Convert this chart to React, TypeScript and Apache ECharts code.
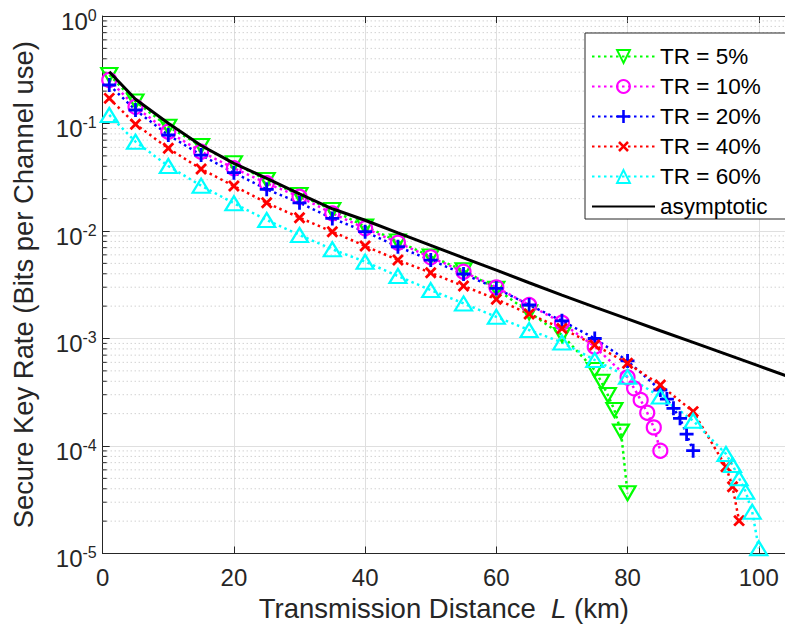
import React, { useEffect, useRef } from "react";
import * as echarts from "echarts";

// ---------- data ----------
const X_MAIN = [1, 5, 10, 15, 20, 25, 30, 35, 40, 45, 50, 55, 60, 65, 70];

const TR5_X = [...X_MAIN, 75, 76, 77, 78, 79, 80];
const TR5_Y = [0.283, 0.16, 0.0934, 0.0618, 0.0426, 0.0298, 0.0216, 0.0157, 0.011, 0.008, 0.0058, 0.0043, 0.0029, 0.00175, 0.00108,
  5.09e-4, 3.96e-4, 2.98e-4, 2.16e-4, 1.36e-4, 3.63e-5];

const TR10_X = [...X_MAIN, 75, 80, 81, 82, 83, 84, 85];
const TR10_Y = [0.254, 0.143, 0.0839, 0.0547, 0.0383, 0.0278, 0.0208, 0.0146, 0.0106, 0.00778, 0.00569, 0.00418, 0.00299, 0.00205, 0.0014,
  8.39e-4, 4.35e-4, 3.44e-4, 2.68e-4, 2.04e-4, 1.49e-4, 9.04e-5];

const TR20_X = [...X_MAIN, 75, 80, 85, 86, 87, 88, 89, 90];
const TR20_Y = [0.228, 0.1335, 0.0782, 0.0509, 0.0349, 0.0244, 0.0183, 0.0131, 0.00985, 0.00714, 0.00537, 0.00398, 0.00293, 0.00205, 0.00146,
  1.0e-3, 6.18e-4, 3.32e-4, 2.73e-4, 2.24e-4, 1.81e-4, 1.29e-4, 9.04e-5];

const TR40_X = [...X_MAIN, 75, 80, 85, 90, 95, 96, 97];
const TR40_Y = [0.1715, 0.0984, 0.0588, 0.0377, 0.0262, 0.0183, 0.0133, 0.00985, 0.00725, 0.00537, 0.00409, 0.00308, 0.00232, 0.00169, 0.00124,
  8.7e-4, 5.88e-4, 3.69e-4, 2.09e-4, 6.42e-5, 4.18e-5, 2.02e-5];

const TR60_X = [...X_MAIN, 75, 80, 85, 90, 95, 96, 97, 98, 99, 100];
const TR60_Y = [0.12, 0.0677, 0.0402, 0.0264, 0.0181, 0.01265, 0.00918, 0.00676, 0.00518, 0.00381, 0.00282, 0.00212, 0.00159, 0.0012, 9.2e-4,
  6.31e-4, 4.41e-4, 2.88e-4, 1.72e-4, 8.43e-5, 6.66e-5, 5.01e-5, 3.76e-5, 2.45e-5, 1.12e-5];

const ASYM_X = [...X_MAIN, 75, 80, 85, 90, 95, 100, 105];
const ASYM_Y = [0.303, 0.168, 0.1004, 0.0625, 0.0426, 0.0309, 0.0221, 0.0161, 0.01259, 0.00962, 0.00736, 0.00563, 0.00432, 0.0033, 0.00253,
  0.00196, 0.00152, 0.00118, 9.22e-4, 7.16e-4, 5.56e-4, 4.32e-4];

const SERIES_NAMES = ["TR = 5%", "TR = 10%", "TR = 20%", "TR = 40%", "TR = 60%", "asymptotic"];
const X_TICK_INTERVAL = 20;
const X_MIN = 0;
const X_MAX = 104;
const Y_MIN = 1e-5;
const Y_MAX = 1;
const DECADES = [-5, -4, -3, -2, -1];
const MINOR_MULTS = [2, 3, 4, 5, 6, 7, 8, 9];

const FONT = "'Liberation Sans', Arial, Helvetica, sans-serif";
const AX = "#262626";
const PLUS = "path://M4,0H6V4H10V6H6V10H4V6H0V4H4Z";

const pairs = (xs: number[], ys: number[]) => xs.map((x, i) => [x, ys[i]]);

function markerSeries(name: string, xs: number[], ys: number[], color: string, symbol: string, size: any, rotate: number, hollow: boolean) {
  return {
    type: "line",
    name,
    data: pairs(xs, ys),
    symbol,
    symbolSize: size,
    symbolRotate: rotate,
    showSymbol: true,
    showAllSymbol: true,
    color,
    lineStyle: { color, width: 2.5, type: [2.5, 3.5] },
    itemStyle: hollow
      ? { color: "rgba(255,255,255,0)", borderColor: color, borderWidth: 2.2 }
      : { color, borderWidth: 0 },
    emphasis: { disabled: true },
    z: 3,
  };
}

export default function App() {
  const ref = useRef<HTMLDivElement>(null);
  useEffect(() => {
    if (!ref.current) return;
    const chart = echarts.init(ref.current, undefined, { renderer: "svg" });
    const minorVals: number[][] = [];
    DECADES.forEach((d) => MINOR_MULTS.forEach((m) => minorVals.push([X_MIN, m * Math.pow(10, d)])));

    const option: any = {
      animation: false,
      backgroundColor: "#fff",
      grid: { left: 102.7, top: 16, width: 683.6, height: 537.5, containLabel: false },
      xAxis: [
        {
          type: "value",
          min: X_MIN,
          max: X_MAX,
          interval: X_TICK_INTERVAL,
          position: "bottom",
          name: "{n|Transmission Distance  }{i|L}{n| (km)}",
          nameLocation: "middle",
          nameGap: 38,
          nameTextStyle: {
            rich: {
              n: { fontSize: 27.5, color: AX, fontFamily: FONT },
              i: { fontSize: 27.5, color: AX, fontFamily: FONT, fontStyle: "italic" },
            },
          },
          axisLine: { show: true, lineStyle: { color: AX, width: 1 } },
          axisTick: { show: true, inside: true, length: 7, lineStyle: { color: AX } },
          axisLabel: { show: true, fontSize: 24, color: AX, fontFamily: FONT, margin: 12, showMaxLabel: false },
          splitLine: { show: true, lineStyle: { color: "#dfdfdf", width: 1 } },
        },
        {
          type: "value",
          min: X_MIN,
          max: X_MAX,
          interval: X_TICK_INTERVAL,
          position: "top",
          axisLine: { show: true, lineStyle: { color: AX, width: 1 } },
          axisTick: { show: true, inside: true, length: 7, lineStyle: { color: AX } },
          axisLabel: { show: false },
          splitLine: { show: false },
        },
      ],
      yAxis: {
        type: "log",
        logBase: 10,
        min: Y_MIN,
        max: Y_MAX,
        name: "Secure Key Rate (Bits per Channel use)",
        nameLocation: "middle",
        nameGap: 66,
        nameTextStyle: { fontSize: 27.4, color: AX, fontFamily: FONT },
        axisLine: { show: true, lineStyle: { color: AX, width: 1 } },
        axisTick: { show: true, inside: true, length: 7, lineStyle: { color: AX } },
        axisLabel: {
          show: true,
          margin: 6,
          padding: [10, 0, 0, 0],
          formatter: (v: number) => `{b|10}{e|${Math.round(Math.log10(v))}}`,
          rich: {
            b: { fontSize: 24, color: AX, fontFamily: FONT, lineHeight: 28 },
            e: { fontSize: 16, color: AX, fontFamily: FONT, lineHeight: 16, verticalAlign: "top" },
          },
        },
        splitLine: { show: true, lineStyle: { color: "#dfdfdf", width: 1 } },
      },
      legend: {
        orient: "vertical",
        left: 585,
        top: 33,
        padding: [11, 20, 0, 6],
        itemWidth: 63,
        itemHeight: 16,
        itemGap: 5,
        backgroundColor: "#fff",
        borderColor: AX,
        borderWidth: 1,
        borderRadius: 0,
        textStyle: { fontSize: 22.5, color: "#000", fontFamily: FONT, lineHeight: 25 },
        data: SERIES_NAMES,
        selectedMode: false,
      },
      series: [
        {
          type: "custom",
          name: "minor",
          silent: true,
          z: 1,
          clip: true,
          data: minorVals,
          renderItem: (params: any, api: any) => {
            const v = api.value(1);
            const p0 = api.coord([X_MIN, v]);
            const p1 = api.coord([X_MAX, v]);
            return {
              type: "group",
              children: [
                { type: "line", shape: { x1: p0[0], y1: p0[1], x2: p1[0], y2: p1[1] }, style: { stroke: "#bdbdbd", lineWidth: 1, lineDash: [1, 3] } },
                { type: "line", shape: { x1: p0[0], y1: p0[1], x2: p0[0] + 4, y2: p0[1] }, style: { stroke: AX, lineWidth: 1 } },
              ],
            };
          },
        },
        markerSeries(SERIES_NAMES[0], TR5_X, TR5_Y, "#00ff00", "triangle", [16, 14], 180, true),
        markerSeries(SERIES_NAMES[1], TR10_X, TR10_Y, "#ff00ff", "circle", 14, 0, true),
        markerSeries(SERIES_NAMES[2], TR20_X, TR20_Y, "#0000ff", PLUS, 14, 0, false),
        markerSeries(SERIES_NAMES[3], TR40_X, TR40_Y, "#ff0000", PLUS, 14, 45, false),
        markerSeries(SERIES_NAMES[4], TR60_X, TR60_Y, "#00ffff", "triangle", [17, 14], 0, true),
        {
          type: "line",
          name: SERIES_NAMES[5],
          data: pairs(ASYM_X, ASYM_Y),
          symbol: "none",
          color: "#000",
          lineStyle: { color: "#000", width: 3 },
          itemStyle: { color: "rgba(0,0,0,0)", borderWidth: 0 },
          emphasis: { disabled: true },
          z: 4,
        },
      ],
    };
    chart.setOption(option);
    return () => chart.dispose();
  }, []);
  return <div ref={ref} style={{ position: "fixed", left: 0, top: 0, width: 785, height: 637 }} />;
}
